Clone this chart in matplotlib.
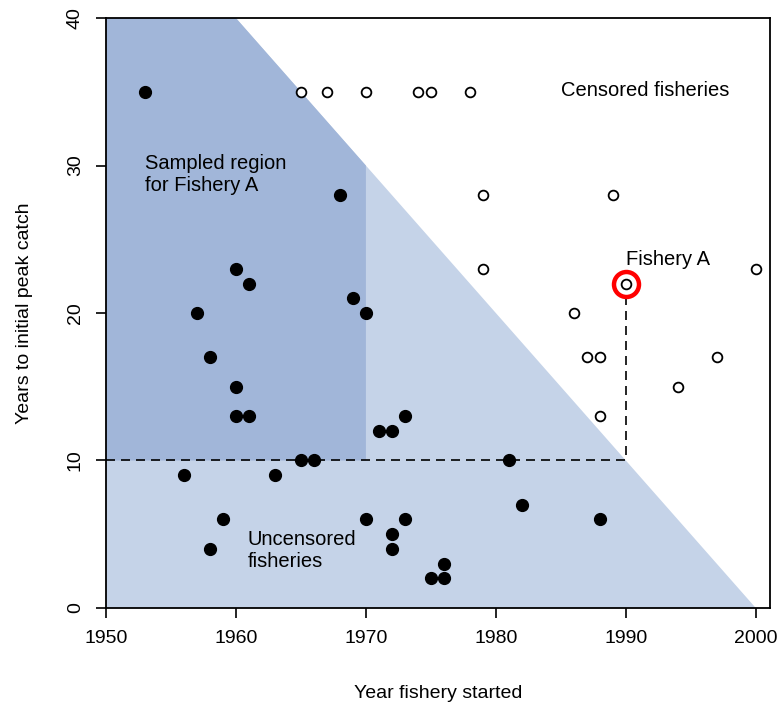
import numpy as np
import matplotlib.pyplot as plt

plt.rcParams['font.family'] = ['Liberation Sans', 'DejaVu Sans']

# uncensored fisheries (filled)
unc_year = [1953, 1968, 1960, 1961, 1957, 1969, 1970, 1958, 1960, 1960, 1961,
            1971, 1972, 1973, 1965, 1966, 1956, 1963, 1981, 1982, 1959, 1970,
            1973, 1988, 1972, 1972, 1958, 1976, 1975, 1976]
unc_peak = [35, 28, 23, 22, 20, 21, 20, 17, 15, 13, 13,
            12, 12, 13, 10, 10, 9, 9, 10, 7, 6, 6,
            6, 6, 5, 4, 4, 3, 2, 2]

# censored fisheries (open)
cen_year = [1965, 1967, 1970, 1974, 1975, 1978, 1979, 1989, 1979, 2000,
            1990, 1986, 1987, 1988, 1997, 1994, 1988]
cen_peak = [35, 35, 35, 35, 35, 35, 28, 28, 23, 23,
            22, 20, 17, 17, 17, 15, 13]

fishA_year = 1990
fishA_peak = 22
cut_year = 2000   # end of the data
min_peak = 10
samp_year = 1970  # right edge of sampled region
yr0 = 1950
ymax = 40

fig = plt.figure(figsize=(7.81, 7.09), dpi=100)
ax = fig.add_axes([0.1357, 0.1425, 0.8503, 0.832])

# light region: fisheries that could be observed by cut_year
ax.fill([yr0, cut_year, cut_year - ymax, yr0], [0, 0, ymax, ymax],
        color='#c5d3e8', lw=0)
# darker sampled region for fishery A
ax.fill([yr0, samp_year, samp_year, cut_year - ymax, yr0],
        [min_peak, min_peak, cut_year - samp_year, ymax, ymax],
        color='#a1b6d9', lw=0)

ax.plot([yr0, fishA_year, fishA_year], [min_peak, min_peak, fishA_peak],
        ls=(0, (5.4, 3.6)), color='black', lw=1.2)

ax.plot(unc_year, unc_peak, 'o', color='black', ms=8.5, zorder=3)
ax.plot(cen_year, cen_peak, 'o', mfc='white', mec='black', mew=1.3, ms=7, zorder=3)
ax.plot(fishA_year, fishA_peak, 'o', mfc='none', mec='red', mew=3.2, ms=18, zorder=4)

fs = 14.5
ax.text(1991.5, 35.1, 'Censored fisheries', ha='center', va='center', fontsize=fs)
ax.text(1953, 29.4, 'Sampled region\nfor Fishery A', ha='left', va='center',
        fontsize=fs, linespacing=1.25)
ax.text(1990, 23.6, 'Fishery A', ha='left', va='center', fontsize=fs)
ax.text(1960.9, 3.9, 'Uncensored\nfisheries', ha='left', va='center',
        fontsize=fs, linespacing=1.2)

ax.set_xlim(1950, 2001.1)
ax.set_ylim(0, 40)
ax.set_xticks([1950, 1960, 1970, 1980, 1990, 2000])
ax.set_yticks([0, 10, 20, 30, 40])
ax.set_yticklabels(['0', '10', '20', '30', '40'], rotation=90, va='center')
ax.tick_params(length=7, width=1.2, labelsize=14, pad=9)
for s in ax.spines.values():
    s.set_linewidth(1.3)
ax.set_xlabel('Year fishery started', fontsize=14, labelpad=27)
ax.set_ylabel('Years to initial peak catch', fontsize=14, labelpad=24)

fig.savefig('out.png', dpi=100)
